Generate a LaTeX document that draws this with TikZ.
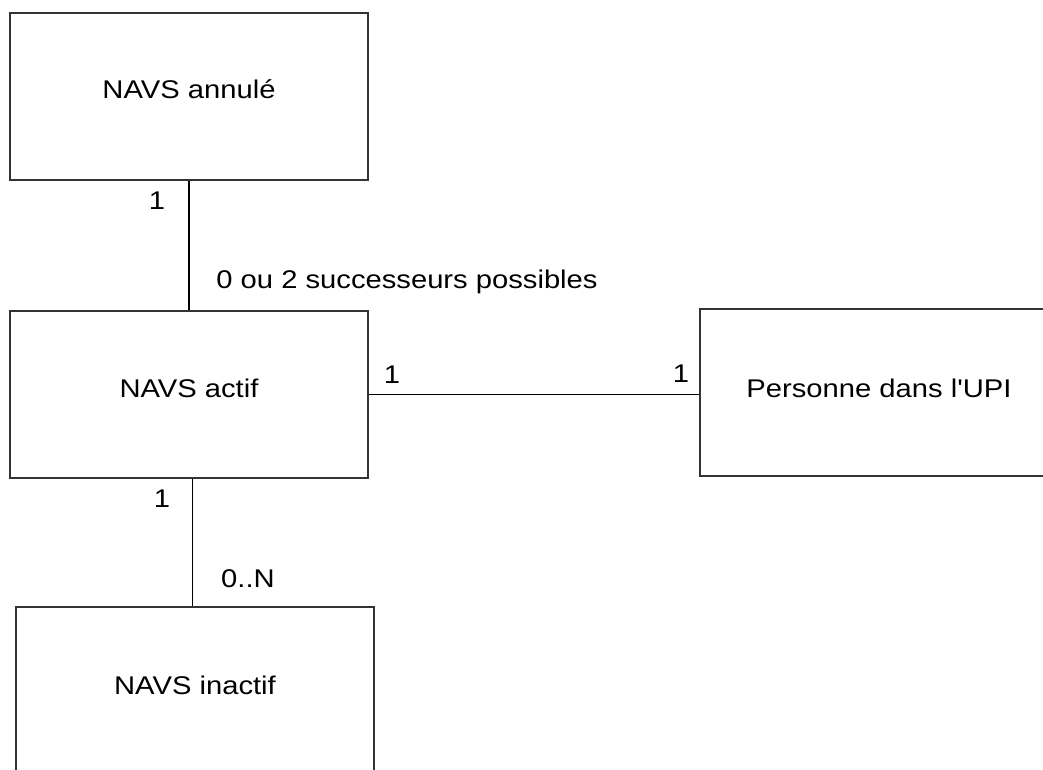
\documentclass[tikz,border=0pt]{standalone}
\usepackage{fontspec}
\setmainfont{Liberation Sans}[FakeStretch=1.14,Ligatures=TeXOff]
\begin{document}
\begin{tikzpicture}[x=1pt,y=-1pt,
  entity/.style={draw=black!80,line width=1.2pt,inner sep=0pt,fill=white},
  txt/.style={anchor=base,inner sep=0pt,font=\fontsize{25.6}{30}\selectfont},
  conn/.style={draw=black,line width=1.6pt}]
\clip (0,0) rectangle (1043,769);
\fill[white] (0,0) rectangle (1043,769);
% boxes
\node[entity,minimum width=358pt,minimum height=167pt] (b1) at (189,96.5) {};
\node[entity,minimum width=358pt,minimum height=167pt] (b2) at (189,394.5) {};
\node[entity,minimum width=360pt,minimum height=167pt] (b3) at (880,392.5) {};
\node[entity,minimum width=358pt,minimum height=170pt] (b4) at (195,692) {};
% box texts
\node[txt] (t1) at (189,98) {NAVS annulé};
\node[txt] (t2) at (189,397) {NAVS actif};
\node[txt] (t3) at (879,397) {Personne dans l'UPI};
\node[txt] (t4) at (195,694) {NAVS inactif};
% connectors
\draw[conn] (b1.south) -- (b2.north);
\draw[conn] (b2.east) -- (b2.east -| b3.west);
\coordinate (c4) at (192.5,478);
\draw[conn] (b2.south -| c4) -- (b4.north -| c4);
% multiplicities
\node[txt] (m1) at (157,209) {1};
\node[txt] (m2) at (407,288) {0 ou 2 successeurs possibles};
\node[txt] (m3) at (392,383) {1};
\node[txt] (m4) at (681,382) {1};
\node[txt] (m5) at (162,507) {1};
\node[txt] (m6) at (248,587) {0..N};
\end{tikzpicture}
\end{document}
